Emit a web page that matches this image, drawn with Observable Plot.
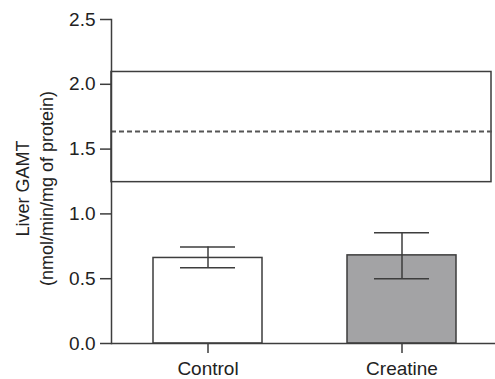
<!DOCTYPE html>
<html>
<head>
<meta charset="utf-8">
<script src="https://cdn.jsdelivr.net/npm/d3@7"></script>
<script src="https://cdn.jsdelivr.net/npm/@observablehq/plot@0.6"></script>
<style>
  html, body { margin: 0; padding: 0; background: #fff; }
  #chart svg { display: block; }
</style>
</head>
<body>
<div id="chart"></div>
<script>
// Group means with error bar bounds
const groups = ["Control", "Creatine"];
const means = [0.66, 0.68];
const errLow = [0.585, 0.50];
const errHigh = [0.745, 0.855];
const barFills = ["#ffffff", "#a3a3a5"];

// Reference range (lower, upper) and its mean
const refLow = 1.245;
const refHigh = 2.095;
const refMean = 1.635;

const yTicks = [0, 0.5, 1.0, 1.5, 2.0, 2.5];
const yLabelLines = ["Liver GAMT", "(nmol/min/mg of protein)"];

const rows = groups.map((g, i) => ({
  group: g, mean: means[i], lo: errLow[i], hi: errHigh[i], fill: barFills[i]
}));

const ink = "#3d3d3d";
const textInk = "#222";

const chart = Plot.plot({
  width: 495,
  height: 379,
  marginLeft: 111,
  marginRight: 0,
  marginTop: 19,
  marginBottom: 36,
  style: {fontFamily: "'Liberation Sans', Arial, sans-serif", fontSize: "19px", color: textInk, background: "#fff"},
  x: {
    type: "band",
    domain: groups,
    range: [112, 498],
    paddingInner: 0.436,
    paddingOuter: 0.21
  },
  y: {
    domain: [0, 2.5]
  },
  marks: [
    // reference range box and its dashed mean line
    Plot.rect([{lo: refLow, hi: refHigh}], {y1: "lo", y2: "hi", fill: "none", stroke: ink, strokeWidth: 1.5, insetRight: 4}),
    Plot.ruleY([refMean], {stroke: "#555", strokeWidth: 2, strokeDasharray: "5,3"}),
    // bars
    Plot.barY(rows, {x: "group", y: "mean", fill: "fill", stroke: ink, strokeWidth: 1.5}),
    // error bars
    Plot.ruleX(rows, {x: "group", y1: "lo", y2: "hi", stroke: ink, strokeWidth: 1.5}),
    Plot.tickY(rows, {x: "group", y: "lo", stroke: ink, strokeWidth: 1.5, insetLeft: 27, insetRight: 27}),
    Plot.tickY(rows, {x: "group", y: "hi", stroke: ink, strokeWidth: 1.5, insetLeft: 27, insetRight: 27}),
    // axes
    Plot.axisY(yTicks, {
      tickFormat: d3.format(".1f"), tickSize: 11, tickPadding: 5,
      stroke: ink, strokeWidth: 1.5, fill: textInk, fontSize: 19, label: null
    }),
    Plot.axisX({
      tickSize: 10, tickPadding: 8, stroke: ink, strokeWidth: 1.5,
      fill: textInk, fontSize: 19, label: null
    }),
    Plot.frame({anchor: "left", stroke: ink, strokeWidth: 1.5}),
    // baseline
    Plot.ruleY([0], {stroke: ink, strokeWidth: 1.5}),
    // y axis title, two lines
    Plot.text([yLabelLines[0]], {text: d => d, frameAnchor: "left", textAnchor: "middle", rotate: -90, dx: -88, dy: 7, fontSize: 18, fill: textInk}),
    Plot.text([yLabelLines[1]], {text: d => d, frameAnchor: "left", textAnchor: "middle", rotate: -90, dx: -64, dy: 7, fontSize: 18, fill: textInk})
  ]
});

document.getElementById("chart").appendChild(chart);
</script>
</body>
</html>
